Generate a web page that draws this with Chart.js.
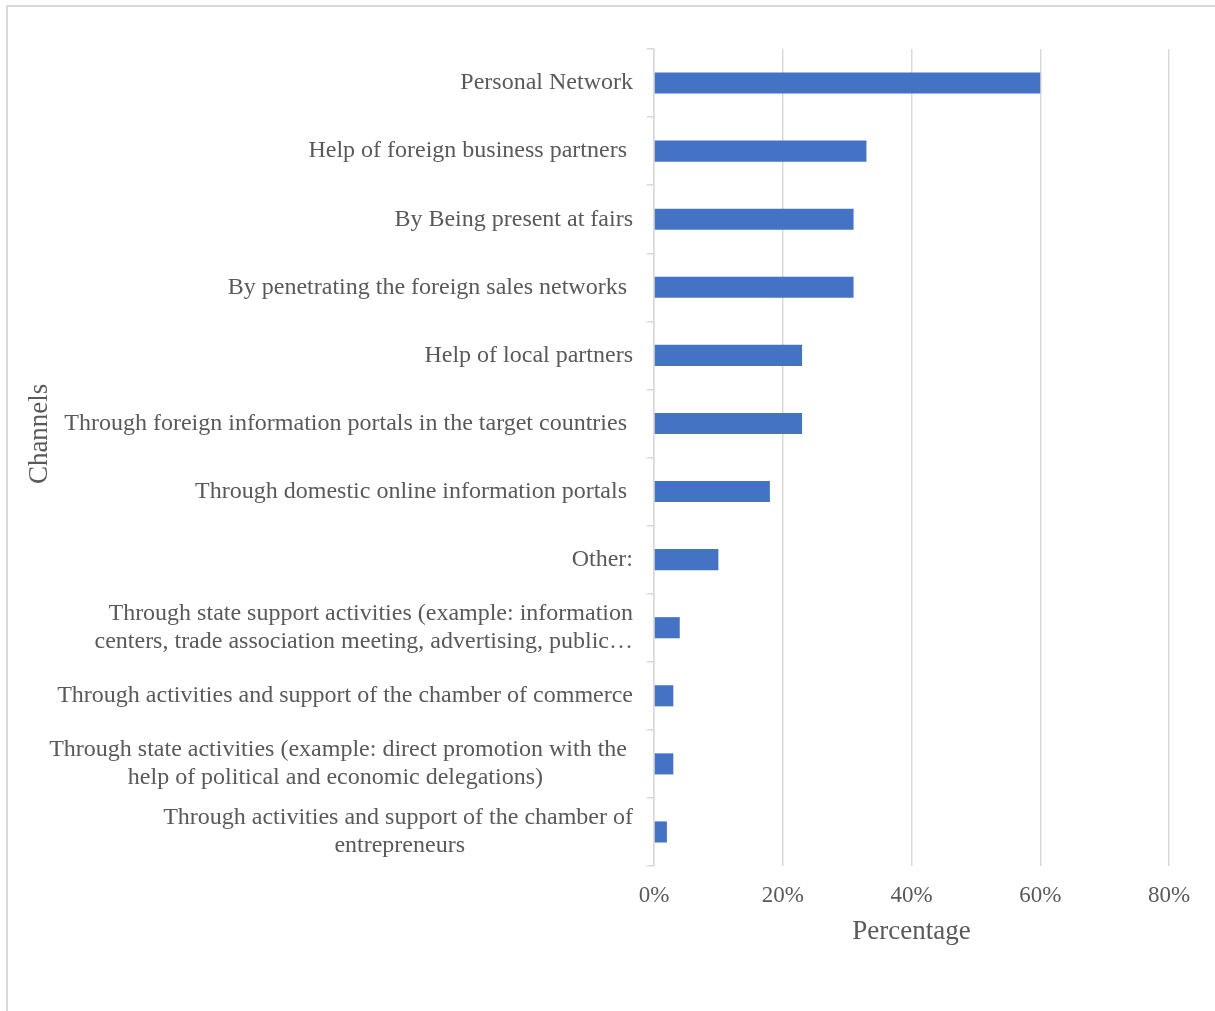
<!DOCTYPE html>
<html>
<head>
<meta charset="utf-8">
<title>Channels</title>
<script src="https://cdn.jsdelivr.net/npm/chart.js@4.4.1/dist/chart.umd.min.js"></script>
<style>
  html, body { margin: 0; padding: 0; background: #ffffff; overflow: hidden; }
  #frame {
    position: absolute; left: 6px; top: 5px; width: 1240px; height: 1040px;
    border-left: 2px solid #d9d9d9; border-top: 2px solid #d9d9d9;
  }
  #wrap { position: absolute; left: 0; top: 0; width: 1215px; height: 1011px; }
</style>
</head>
<body>
<div id="frame"></div>
<div id="wrap"><canvas id="chart" width="1215" height="1011"></canvas></div>
<script>
// Channel names (top to bottom) and the share of respondents using each one
const channelNames = [
  ["Personal Network"],
  ["Help of foreign business partners "],
  ["By Being present at fairs"],
  ["By penetrating the foreign sales networks "],
  ["Help of local partners"],
  ["Through foreign information portals in the target countries "],
  ["Through domestic online information portals "],
  ["Other:"],
  ["Through state support activities (example: information", "centers, trade association meeting, advertising, public\u2026"],
  ["Through activities and support of the chamber of commerce"],
  ["Through state activities (example: direct promotion with the ", "help of political and economic delegations)"],
  ["Through activities and support of the chamber of", "entrepreneurs"]
];
const centeredLabels = [10, 11];
const shares = [60, 33, 31, 31, 23, 23, 18, 10, 4, 3, 3, 2];
const percentTicks = [0, 20, 40, 60, 80];
const xTitle = "Percentage";
const yTitle = "Channels";

const FONT_FAMILY = '"Liberation Serif", "Times New Roman", Times, serif';
const TICK_SIZE = 24;
const TEXT_COLOR = '#595959';
const GRID_COLOR = '#d9d9d9';

// Multi-line labels are centred on each other; pad the shorter lines with
// trailing spaces so that right-aligned tick text keeps them centred.
const measureCtx = document.createElement('canvas').getContext('2d');
measureCtx.font = TICK_SIZE + 'px ' + FONT_FAMILY;
function centreLines(lines) {
  const space = measureCtx.measureText(' ').width;
  const vis = lines.map(l => measureCtx.measureText(l.trimEnd()).width);
  const trail = lines.map((l, i) => measureCtx.measureText(l).width - vis[i]);
  const widest = vis.indexOf(Math.max(...vis));
  const W = vis[widest];
  return lines.map((l, i) => {
    if (i === widest) return l;
    const need = trail[widest] + (W - vis[i]) / 2;
    return l.trimEnd() + ' '.repeat(Math.max(0, Math.round(need / space)));
  });
}
const labels = channelNames.map((lines, i) =>
  centeredLabels.includes(i) ? centreLines(lines) : (lines.length === 1 ? lines[0] : lines));

new Chart(document.getElementById('chart'), {
  type: 'bar',
  data: {
    labels: labels,
    datasets: [{
      data: shares,
      backgroundColor: '#4472c4',
      borderWidth: 0,
      categoryPercentage: 1,
      barPercentage: 0.31
    }]
  },
  options: {
    indexAxis: 'y',
    responsive: false,
    animation: false,
    layout: { padding: { top: 49, right: 46, bottom: 0, left: 0 } },
    plugins: {
      legend: { display: false },
      tooltip: { enabled: false }
    },
    scales: {
      x: {
        type: 'linear',
        min: 0,
        max: 80,
        afterBuildTicks: s => { s.ticks = percentTicks.map(v => ({ value: v })); },
        afterFit: s => { s.height = 145; },
        border: { display: false },
        grid: { color: GRID_COLOR, lineWidth: 1.5, drawTicks: false },
        ticks: {
          padding: 16,
          color: TEXT_COLOR,
          font: { family: FONT_FAMILY, size: 23 },
          callback: v => v + '%'
        },
        title: {
          display: true,
          text: xTitle,
          color: TEXT_COLOR,
          font: { family: FONT_FAMILY, size: 27 },
          padding: { top: 0, bottom: 63 }
        }
      },
      y: {
        afterFit: s => { s.width = 654; },
        border: { display: true, color: GRID_COLOR, width: 1.5 },
        grid: {
          offset: true,
          drawOnChartArea: false,
          drawTicks: true,
          tickLength: 7,
          color: GRID_COLOR,
          lineWidth: 1.5
        },
        ticks: {
          padding: 14,
          color: TEXT_COLOR,
          autoSkip: false,
          font: { family: FONT_FAMILY, size: TICK_SIZE, lineHeight: 1.167 }
        },
        title: {
          display: true,
          text: '       ' + yTitle,
          color: TEXT_COLOR,
          font: { family: FONT_FAMILY, size: 27 },
          padding: { top: 24, bottom: 0 }
        }
      }
    }
  }
});
</script>
</body>
</html>
